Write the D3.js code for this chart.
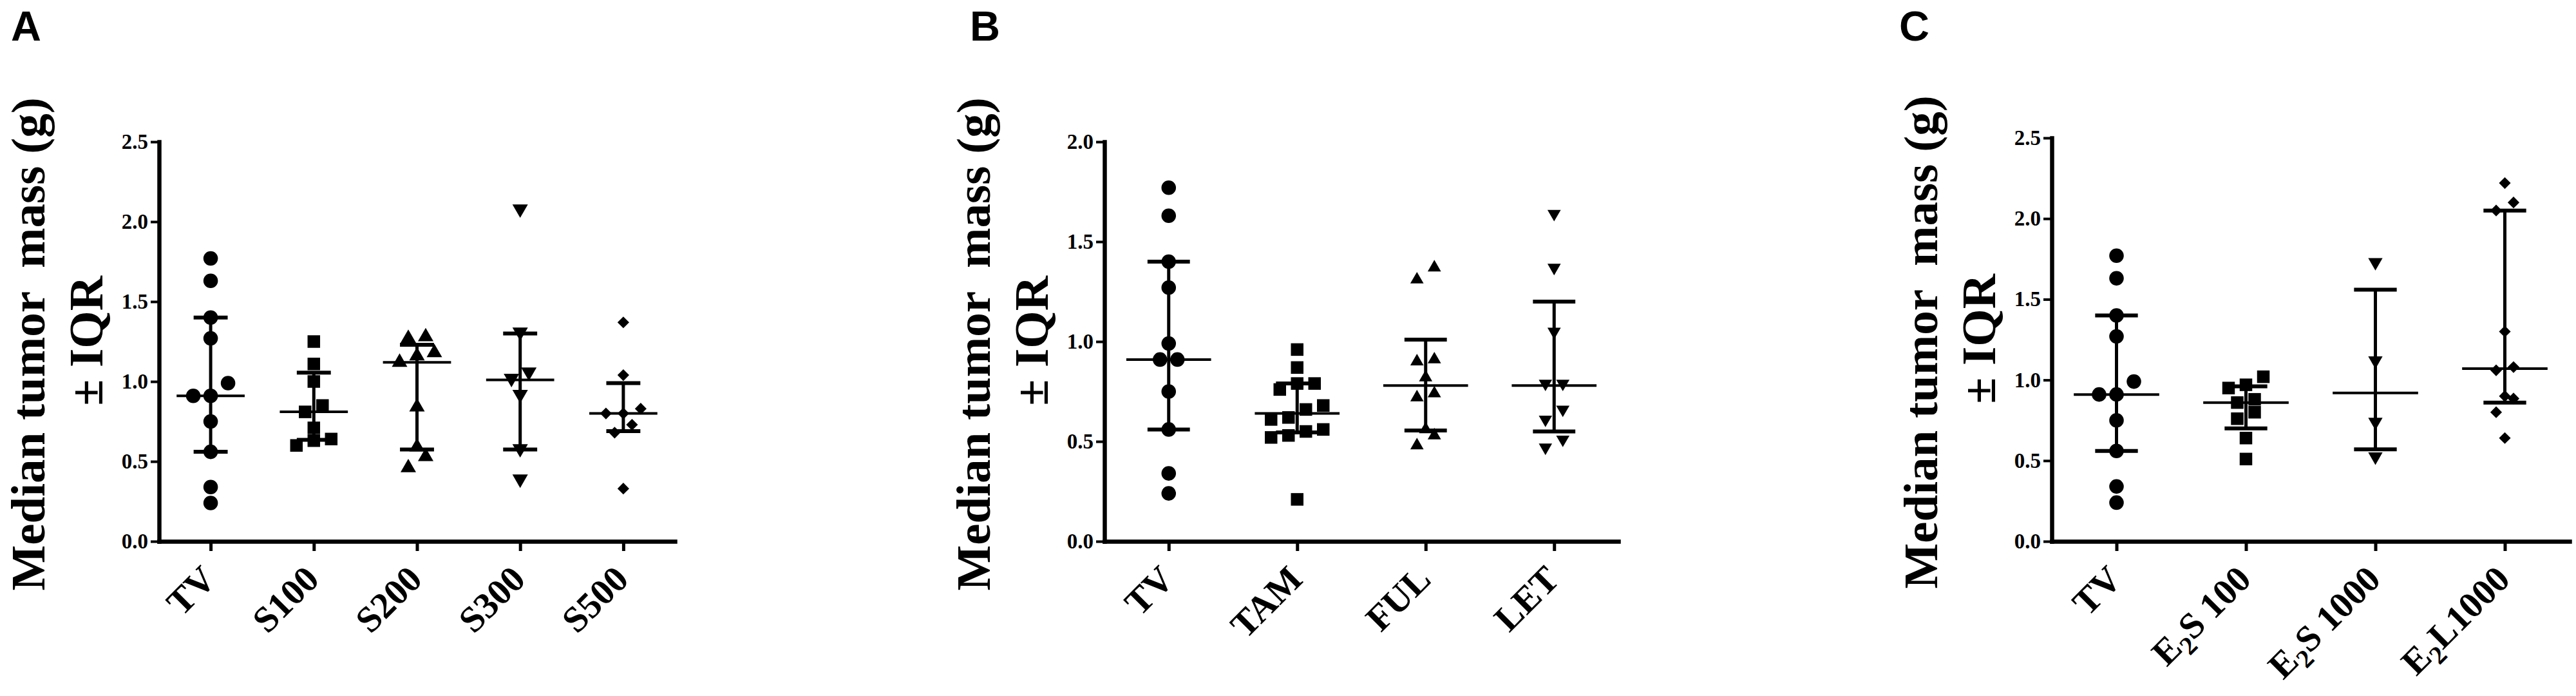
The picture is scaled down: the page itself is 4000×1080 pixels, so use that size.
<!DOCTYPE html>
<html>
<head>
<meta charset="utf-8">
<script src="https://cdn.jsdelivr.net/npm/d3@7"></script>
<style>
  body { margin: 0; background: #fff; }
  svg text { font-family: "Liberation Serif", "Times New Roman", serif; font-weight: bold; fill: #000; }
  .letter { font-family: "Liberation Sans", Arial, sans-serif !important; }
</style>
</head>
<body>
<div id="chart-area"></div>
<script>

// ---- data ----

// panel A
let catsA = ["TV", "S100", "S200", "S300", "S500"];
let tvVals = [1.77, 1.63, 1.40, 1.27, 0.99, 0.91, 0.91, 0.75, 0.56, 0.34, 0.24];
let s100 = [1.25, 1.11, 1.00, 0.85, 0.81, 0.71, 0.64, 0.63, 0.60];
let s200 = [1.28, 1.27, 1.18, 1.16, 1.12, 0.84, 0.59, 0.53, 0.46];
let s300 = [2.08, 1.31, 1.06, 1.02, 0.92, 0.58, 0.39];
let s500 = [1.37, 1.04, 0.83, 0.80, 0.80, 0.73, 0.68, 0.33];
let medA = [0.91, 0.81, 1.12, 1.01, 0.80];
let q1A = [0.56, 0.635, 0.575, 0.575, 0.69];
let q3A = [1.40, 1.055, 1.23, 1.30, 0.99];
let ticksA = [0, 0.5, 1.0, 1.5, 2.0, 2.5];

// panel B
let catsB = ["TV", "TAM", "FUL", "LET"];
let tam = [0.96, 0.87, 0.79, 0.79, 0.76, 0.68, 0.66, 0.62, 0.61, 0.56, 0.55, 0.53, 0.52, 0.21];
let ful = [1.37, 1.31, 0.91, 0.90, 0.82, 0.74, 0.72, 0.56, 0.53, 0.48];
let letVals = [1.64, 1.37, 1.05, 0.79, 0.79, 0.66, 0.61, 0.51, 0.47];
let medB = [0.91, 0.64, 0.78, 0.78];
let q1B = [0.56, 0.545, 0.555, 0.55];
let q3B = [1.40, 0.79, 1.01, 1.20];
let ticksB = [0, 0.5, 1.0, 1.5, 2.0];

// panel C
let catsC = ["TV", "E2S 100", "E2S 1000", "E2L1000"];
let e2s100 = [1.02, 0.97, 0.95, 0.88, 0.86, 0.80, 0.76, 0.64, 0.51];
let e2s1000 = [1.73, 1.12, 0.74, 0.525];
let e2l1000 = [2.22, 2.10, 2.05, 1.30, 1.08, 1.06, 0.90, 0.885, 0.80, 0.64];
let medC = [0.91, 0.86, 0.92, 1.07];
let q1C = [0.56, 0.70, 0.57, 0.86];
let q3C = [1.40, 0.96, 1.56, 2.05];
let ticksC = [0, 0.5, 1.0, 1.5, 2.0, 2.5];


let width = 4000,
    height = 1080;

let svg = d3.select("#chart-area").append("svg")
    .attr("width", width)
    .attr("height", height);

let panels = [
  { letter: "A", letterX: 17, cats: catsA, groups: [tvVals, s100, s200, s300, s500],
    med: medA, q1: q1A, q3: q3A, ticks: ticksA,
    shapes: ["circle", "square", "up", "down", "diamond"],
    left: 247, right: 1048, top: 220, bottom: 840, tri: 250, dia: 165 },
  { letter: "B", letterX: 1506, cats: catsB, groups: [tvVals, tam, ful, letVals],
    med: medB, q1: q1B, q3: q3B, ticks: ticksB,
    shapes: ["circle", "square", "up", "down"],
    left: 1715, right: 2513, top: 220, bottom: 840, tri: 185, dia: 150 },
  { letter: "C", letterX: 2949, cats: catsC, groups: [tvVals, e2s100, e2s1000, e2l1000],
    med: medC, q1: q1C, q3: q3C, ticks: ticksC,
    shapes: ["circle", "square", "down", "diamond"],
    left: 3186, right: 3990, top: 214, bottom: 840, tri: 215, dia: 165 }
];

panels.forEach(drawPanel);

// spread overlapping points sideways, the way a scatter dot plot does
function swarm(vals, y, binPx, gap) {
  let pts = vals.map(v => ({ v: v })).sort((a, b) => a.v - b.v);
  let bins = [], cur = null;
  pts.forEach(d => {
    if (cur && Math.abs(y(cur[0].v) - y(d.v)) < binPx) cur.push(d);
    else { cur = [d]; bins.push(cur); }
  });
  bins.forEach(b => b.forEach((d, i) => { d.dx = (i - (b.length - 1) / 2) * gap; }));
  return pts;
}

function drawPanel(p) {
  let y = d3.scaleLinear().domain([0, d3.max(p.ticks)]).range([p.bottom, p.top]);
  let x = d3.scalePoint().domain(p.cats).range([p.left, p.right]).padding(0.5);
  let step = x.step();
  let g = svg.append("g");

  // panel letter
  g.append("text").attr("class", "letter")
    .attr("x", p.letterX).attr("y", 63)
    .attr("font-size", 65)
    .text(p.letter);

  // y axis title (two lines)
  let midY = (p.top + p.bottom) / 2;
  g.append("text")
    .attr("transform", `translate(${p.left - 178},${midY + 4}) rotate(-90)`)
    .attr("text-anchor", "middle")
    .attr("font-size", 75)
    .style("white-space", "pre")
    .text("Median tumor  mass (g)");
  g.append("text")
    .attr("transform", `translate(${p.left - 88},${midY - 1}) rotate(-90)`)
    .attr("text-anchor", "middle")
    .attr("font-size", 75)
    .text("\u00B1 IQR");

  // axes
  let yAxis = d3.axisLeft(y).tickValues(p.ticks).tickFormat(d3.format(".1f"))
    .tickSize(13).tickSizeOuter(0).tickPadding(4);
  let ya = g.append("g").attr("transform", `translate(${p.left},0)`).call(yAxis);
  ya.attr("font-family", null).attr("font-size", null);
  ya.select(".domain").attr("stroke", "#000").attr("stroke-width", 6.5).attr("stroke-linecap", "square");
  ya.selectAll(".tick line").attr("stroke", "#000").attr("stroke-width", 4);
  ya.selectAll(".tick text").attr("font-size", 33).attr("fill", "#000");

  let xAxis = d3.axisBottom(x).tickFormat("").tickSize(15).tickSizeOuter(0);
  let xa = g.append("g").attr("transform", `translate(0,${p.bottom})`).call(xAxis);
  xa.select(".domain").attr("stroke", "#000").attr("stroke-width", 6.5).attr("stroke-linecap", "square");
  xa.selectAll(".tick line").attr("stroke", "#000").attr("stroke-width", 5);

  // category labels, rotated
  g.selectAll(".cat").data(p.cats).join("text")
    .attr("class", "cat")
    .attr("transform", d => `translate(${x(d) + 11},${p.bottom + 62}) rotate(-45)`)
    .attr("text-anchor", "end")
    .attr("font-size", 57)
    .each(function(d) {
      let t = d3.select(this);
      if (d.startsWith("E2")) {
        t.append("tspan").text("E");
        t.append("tspan").attr("font-size", 40).attr("dy", 13).text("2");
        t.append("tspan").attr("dy", -13).style("white-space", "pre").text(d.slice(2));
      } else {
        t.text(d);
      }
    });

  // median and IQR bars
  p.cats.forEach((c, i) => {
    let cx = x(c);
    g.append("line")
      .attr("x1", cx).attr("x2", cx)
      .attr("y1", y(p.q1[i])).attr("y2", y(p.q3[i]))
      .attr("stroke", "#000").attr("stroke-width", 5);
    [p.q1[i], p.q3[i]].forEach(q => {
      g.append("line")
        .attr("x1", cx - step * 0.165).attr("x2", cx + step * 0.165)
        .attr("y1", y(q)).attr("y2", y(q))
        .attr("stroke", "#000").attr("stroke-width", 6);
    });
    g.append("line")
      .attr("x1", cx - step * 0.33).attr("x2", cx + step * 0.33)
      .attr("y1", y(p.med[i])).attr("y2", y(p.med[i]))
      .attr("stroke", "#000").attr("stroke-width", 4);
  });

  // points
  let sym = {
    circle: d3.symbol(d3.symbolCircle, 400),
    square: d3.symbol(d3.symbolSquare, 380),
    up: d3.symbol(d3.symbolTriangle, p.tri),
    down: d3.symbol(d3.symbolTriangle, p.tri),
    diamond: d3.symbol(d3.symbolSquare, p.dia)
  };
  let rot = { circle: 0, square: 0, up: 0, down: 180, diamond: 45 };

  p.groups.forEach((vals, i) => {
    let shape = p.shapes[i];
    let pts = swarm(vals, y, 22, 27);
    g.selectAll(null).data(pts).join("path")
      .attr("d", sym[shape])
      .attr("fill", "#000")
      .attr("transform", d => `translate(${x(p.cats[i]) + d.dx},${y(d.v)}) rotate(${rot[shape]})`);
  });
}

</script>
</body>
</html>
